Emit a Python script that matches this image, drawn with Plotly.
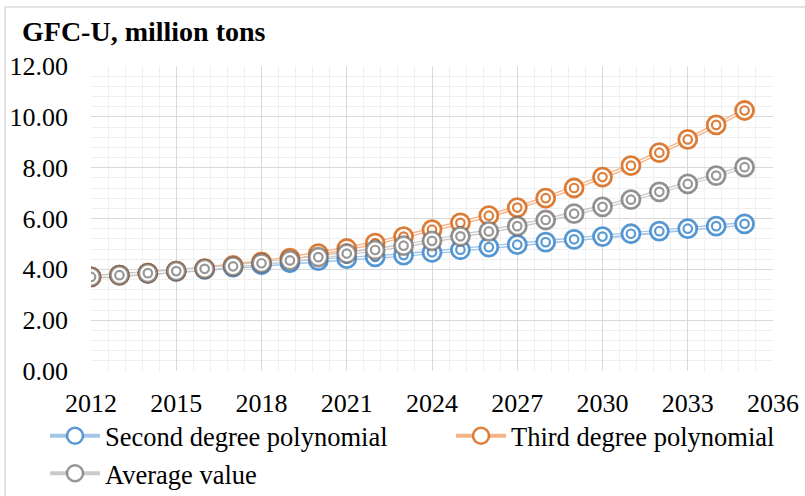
import plotly.graph_objects as go

years = list(range(2012, 2036))
second_degree = [3.70, 3.77, 3.84, 3.92, 4.00, 4.09, 4.18, 4.26, 4.34, 4.42, 4.49, 4.56,
                 4.67, 4.77, 4.87, 4.97, 5.07, 5.18, 5.29, 5.40, 5.50, 5.60, 5.70, 5.79]
third_degree = [3.70, 3.77, 3.85, 3.93, 4.03, 4.15, 4.29, 4.44, 4.62, 4.82, 5.03, 5.29,
                5.56, 5.83, 6.11, 6.43, 6.80, 7.20, 7.63, 8.08, 8.59, 9.11, 9.68, 10.25]
average_value = [3.70, 3.77, 3.85, 3.93, 4.02, 4.12, 4.24, 4.35, 4.48, 4.62, 4.76, 4.93,
                 5.12, 5.30, 5.49, 5.70, 5.94, 6.19, 6.46, 6.74, 7.05, 7.36, 7.69, 8.02]

series = [
    ("Second degree polynomial", second_degree, "rgba(60,135,205,0.85)", "#a3c6e8", "legend"),
    ("Third degree polynomial", third_degree, "rgba(215,105,25,0.85)", "#f5b488", "legend2"),
    ("Average value", average_value, "rgba(105,100,100,0.68)", "#cacaca", "legend"),
]

FONT = "Liberation Serif, Times New Roman, serif"
W, H = 805, 496
L, R, T, B = 91, 32, 66, 125
PW, PH = W - L - R, H - T - B

fig = go.Figure()

# base lines with legend entries
for i, (name, vals, ring, light, leg) in enumerate(series):
    fig.add_trace(go.Scatter(
        x=years, y=vals, name=name, mode="lines+markers",
        line=dict(color=light, width=4),
        marker=dict(symbol="circle", size=16, color="white",
                    line=dict(color=ring, width=2.5)),
        legend=leg, legendgroup="g%d" % i,
    ))
    fig.add_trace(go.Scatter(
        x=years, y=vals, mode="lines", showlegend=False, hoverinfo="skip",
        line=dict(color="white", width=1.2),
    ))

# markers on top
for name, vals, ring, light, leg in series:
    fig.add_trace(go.Scatter(
        x=years, y=vals, mode="markers", showlegend=False, hoverinfo="skip",
        marker=dict(symbol="circle", size=18, color="white",
                    line=dict(color=ring, width=2.8)),
    ))
    fig.add_trace(go.Scatter(
        x=years, y=vals, mode="markers", showlegend=False, hoverinfo="skip",
        marker=dict(symbol="circle-open", size=8.5, color=ring,
                    line=dict(color=ring, width=2.2)),
    ))


def px_x(p):
    return (p - L) / PW


def px_y(p):
    return (H - B - p) / PH


legfont = dict(family=FONT, size=26.5, color="black")

fig.update_layout(
    width=W, height=H,
    margin=dict(l=L, r=R, t=T, b=B, pad=0, autoexpand=False),
    paper_bgcolor="white", plot_bgcolor="white",
    font=dict(family=FONT, size=26, color="black"),
    title=dict(text="<b>GFC-U, million tons</b>", xref="container", yref="container",
               x=22 / W, xanchor="left", y=1 - 31 / H, yanchor="middle",
               font=dict(family=FONT, size=28, color="black")),
    showlegend=True,
    legend=dict(orientation="v", x=px_x(45), y=px_y(412), xanchor="left", yanchor="top",
                font=legfont, itemwidth=50, tracegroupgap=0, bgcolor="rgba(0,0,0,0)"),
    legend2=dict(orientation="v", x=px_x(451), y=px_y(412), xanchor="left", yanchor="top",
                 font=legfont, itemwidth=50, tracegroupgap=0, bgcolor="rgba(0,0,0,0)"),
    xaxis=dict(range=[2012, 2036], tick0=2012, dtick=3, showgrid=True,
               gridcolor="#d9d9d9", gridwidth=1.3, zeroline=False,
               showline=False, ticks="", ticklabelstandoff=14,
               tickfont=dict(family=FONT, size=26),
               minor=dict(tick0=2012, dtick=0.6, showgrid=True,
                          gridcolor="#efefef", gridwidth=1.3)),
    yaxis=dict(range=[0, 12], tick0=0, dtick=2, tickformat=".2f", showgrid=True,
               gridcolor="#d9d9d9", gridwidth=1.3, zeroline=False,
               showline=False, ticks="", ticklabelstandoff=22,
               tickfont=dict(family=FONT, size=26),
               minor=dict(tick0=0, dtick=0.4, showgrid=True,
                          gridcolor="#efefef", gridwidth=1.3)),
    shapes=[
        dict(type="line", xref="paper", yref="paper", x0=px_x(5), x1=px_x(W),
             y0=px_y(7), y1=px_y(7), line=dict(color="#d9d9d9", width=1.5)),
        dict(type="line", xref="paper", yref="paper", x0=px_x(5), x1=px_x(5),
             y0=px_y(7), y1=px_y(H), line=dict(color="#d9d9d9", width=1.5)),
    ],
)

fig.write_html("out.html")
